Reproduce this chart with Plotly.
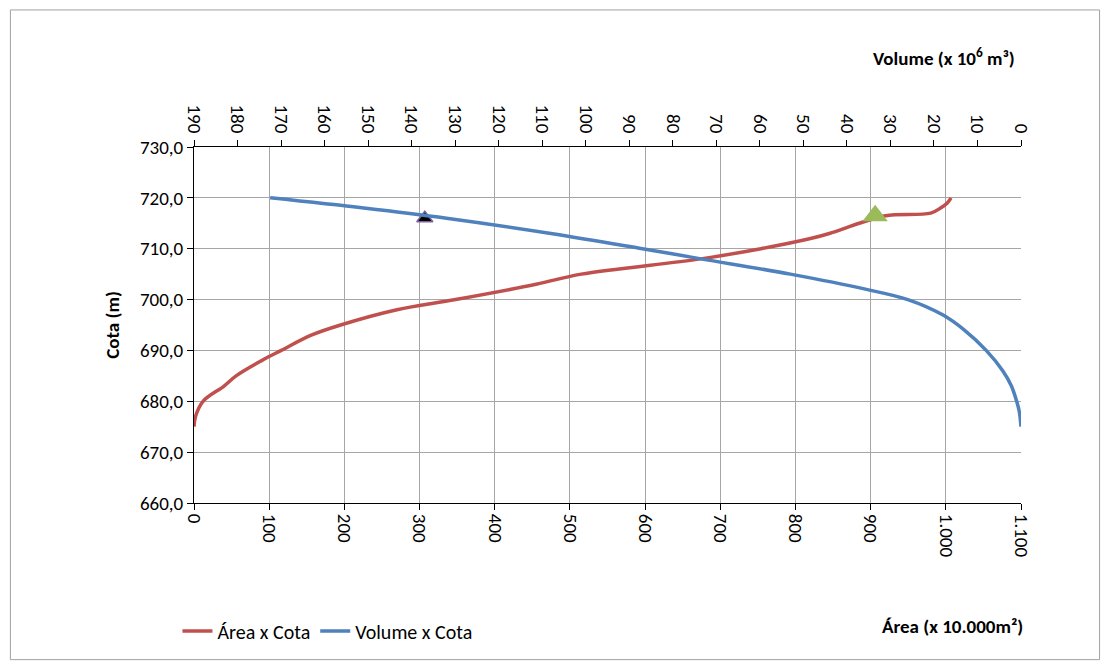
import plotly.graph_objects as go

area_cota = [675, 677, 680, 683, 685, 688, 690, 693, 695, 698, 700, 703, 705, 708, 710, 712, 713, 715, 716.5, 717, 718, 719, 720]
area_vals = [0, 2, 12, 40, 56, 90, 116, 156, 195, 270, 348, 455, 515, 674, 754, 820, 845, 885, 920, 980, 993, 1002, 1007]
vol_cota = [675, 678, 680, 683, 686, 690, 694, 697, 700, 702, 705, 708, 710, 713, 716, 718, 720]
vol_vals = [0, 0.4, 1.0, 2.2, 4.2, 8, 13, 18, 26, 35.5, 53, 73.5, 87, 108, 132, 151, 172.5]
marker_area = [307, 906]
marker_cota = [716, 716.5]

fig = go.Figure()
fig.add_trace(go.Scatter(x=area_vals, y=area_cota, mode="lines", name="Área x Cota",
                         line=dict(color="#C0504D", width=3.5, shape="spline")))
fig.add_trace(go.Scatter(x=vol_vals, y=vol_cota, mode="lines", name="Volume x Cota", xaxis="x2",
                         line=dict(color="#4F81BD", width=3.5, shape="spline")))
fig.add_trace(go.Scatter(x=[marker_area[0]], y=[marker_cota[0]], mode="markers", showlegend=False,
                         marker=dict(symbol="triangle-up", size=14, color="black", line=dict(color="#7F60A0", width=1.5))))
fig.add_trace(go.Scatter(x=[marker_area[1]], y=[marker_cota[1]], mode="markers", showlegend=False,
                         marker=dict(symbol="triangle-up", size=22, color="#9BBB59")))

axfont = dict(family="Carlito, Liberation Sans, Arial", size=19, color="black")
base = dict(showline=True, linecolor="black", linewidth=1,
            ticks="outside", ticklen=6, tickcolor="black", tickfont=axfont, zeroline=False)
fig.update_layout(
    width=1109, height=666, plot_bgcolor="white", paper_bgcolor="white", separators=",.",
    margin=dict(l=186, r=96, t=139, b=171),
    font=dict(family="Carlito, Liberation Sans, Arial", color="black"),
    xaxis=dict(range=[0, 1100], dtick=100, tickangle=90, tickformat=",d", showgrid=True, gridcolor="#A6A6A6", **base),
    xaxis2=dict(range=[190, 0], dtick=10, tickangle=90, overlaying="x", side="top", showgrid=False, **base),
    yaxis=dict(range=[660, 730], dtick=10, tickformat=".1f", showgrid=True, gridcolor="#A6A6A6",
               title=dict(text="<b>Cota (m)</b>", font=dict(size=19)), **base),
    legend=dict(orientation="h", x=-0.02, y=-0.305, xanchor="left", yanchor="top", font=dict(size=20)),
    annotations=[
        dict(text="<b>Volume (x 10<sup>6</sup> m³)</b>", x=0.995, y=1.21, xref="paper", yref="paper",
             xanchor="right", yanchor="bottom", showarrow=False, font=dict(size=19)),
        dict(text="<b>Área (x 10.000m²)</b>", x=1.005, y=-0.31, xref="paper", yref="paper",
             xanchor="right", yanchor="top", showarrow=False, font=dict(size=19)),
    ],
    shapes=[dict(type="rect", xref="paper", yref="paper", x0=-0.222, x1=1.095, y0=-0.44, y1=1.385,
                 line=dict(color="#A0A0A0", width=1))],
)
fig.write_html("out.html")
